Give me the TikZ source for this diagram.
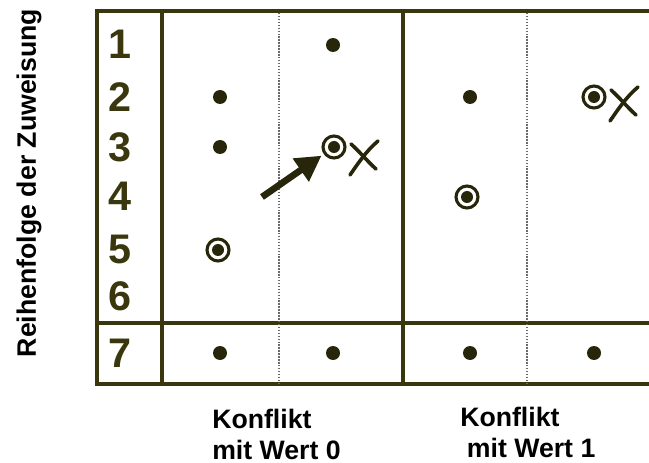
\documentclass[tikz,border=0pt]{standalone}
\usepackage{fontspec}
\setmainfont{Liberation Sans}
\definecolor{tabolive}{RGB}{58,54,14}
\definecolor{dotolive}{RGB}{40,38,10}
\definecolor{dotgray}{RGB}{105,105,105}
\usetikzlibrary{arrows.meta,positioning}

\tikzset{
  xmark/.pic={
    \draw[dotolive,line width=2.7pt,line cap=round] (-12,-13) .. controls (-3,-5) and (5,5) .. (13,12);
    \draw[dotolive,line width=2.7pt,line cap=round] (15,-16) .. controls (3,-6) and (-6,8) .. (-13,18);
  }
}

\begin{document}
\begin{tikzpicture}[x=0.75pt,y=-0.75pt,
  gridline/.style={draw=tabolive,line width=2.3pt},
  splitline/.style={draw=dotgray,line width=1.2pt,dash pattern=on 1.1pt off 1.1pt},
  rownum/.style={font=\fontsize{31}{31}\selectfont\bfseries,text=tabolive,inner sep=0pt},
  dot/.style={circle,fill=dotolive,inner sep=0pt,minimum size=10.5pt},
  ringdot/.style={circle,draw=dotolive,line width=2.3pt,inner sep=0pt,minimum size=16.5pt,
    path picture={\fill[dotolive] (path picture bounding box.center) circle (4.5pt);}},
  labeltext/.style={font=\fontsize{20}{23}\selectfont\bfseries,text=black,inner sep=0pt},
  bigarrow/.style={draw=dotolive,line width=5pt,-{Triangle[length=19pt,width=20pt]},shorten >=2pt}
]
  \useasboundingbox (0,0) rectangle (649,463);
  % table frame
  \draw[gridline] (649,11) -- (97,11) -- (97,384) -- (649,384);
  \draw[gridline] (97,323) -- (649,323);
  \draw[gridline] (162,11) -- (162,384);
  \draw[gridline] (403,11) -- (403,384);
  \draw[splitline] (279,13) -- (279,383);
  \draw[splitline] (527,13) -- (527,383);
  % order of assignment
  \foreach \n/\y in {1/44,2/97,3/147,4/196,5/249,6/296,7/353}
    \node[rownum] (num\n) at (120,\y) {\n};
  \node[labeltext,rotate=90] (order) at (29,183) {Reihenfolge der Zuweisung};
  % assignments
  \node[dot] (d1b) at (333,45) {};
  \node[dot] (d2a) at (220,97) {};
  \node[dot] (d2c) at (470,97) {};
  \node[ringdot] (r2d) at (594,97) {};
  \node[dot] (d3a) at (220,147) {};
  \node[ringdot] (r3b) at (334,147) {};
  \node[ringdot] (r4c) at (467,197) {};
  \node[ringdot] (r5a) at (218,250) {};
  \foreach \x/\c in {220/a,333/b,470/c,594/d}
    \node[dot] (d7\c) at (\x,353) {};
  % conflicts
  \pic at (363,157) {xmark};
  \pic at (623,103) {xmark};
  \coordinate (arrtail) at (262,197);
  \draw[bigarrow] (arrtail) -- (r3b);
  % columns
  \node[labeltext,align=left,anchor=base west] (conf0) at (212,459) {Konflikt\\mit Wert 0};
  \node[labeltext,align=left,anchor=base west] (conf1) at (460,457) {Konflikt\\\hspace*{5pt}mit Wert 1};
\end{tikzpicture}
\end{document}
